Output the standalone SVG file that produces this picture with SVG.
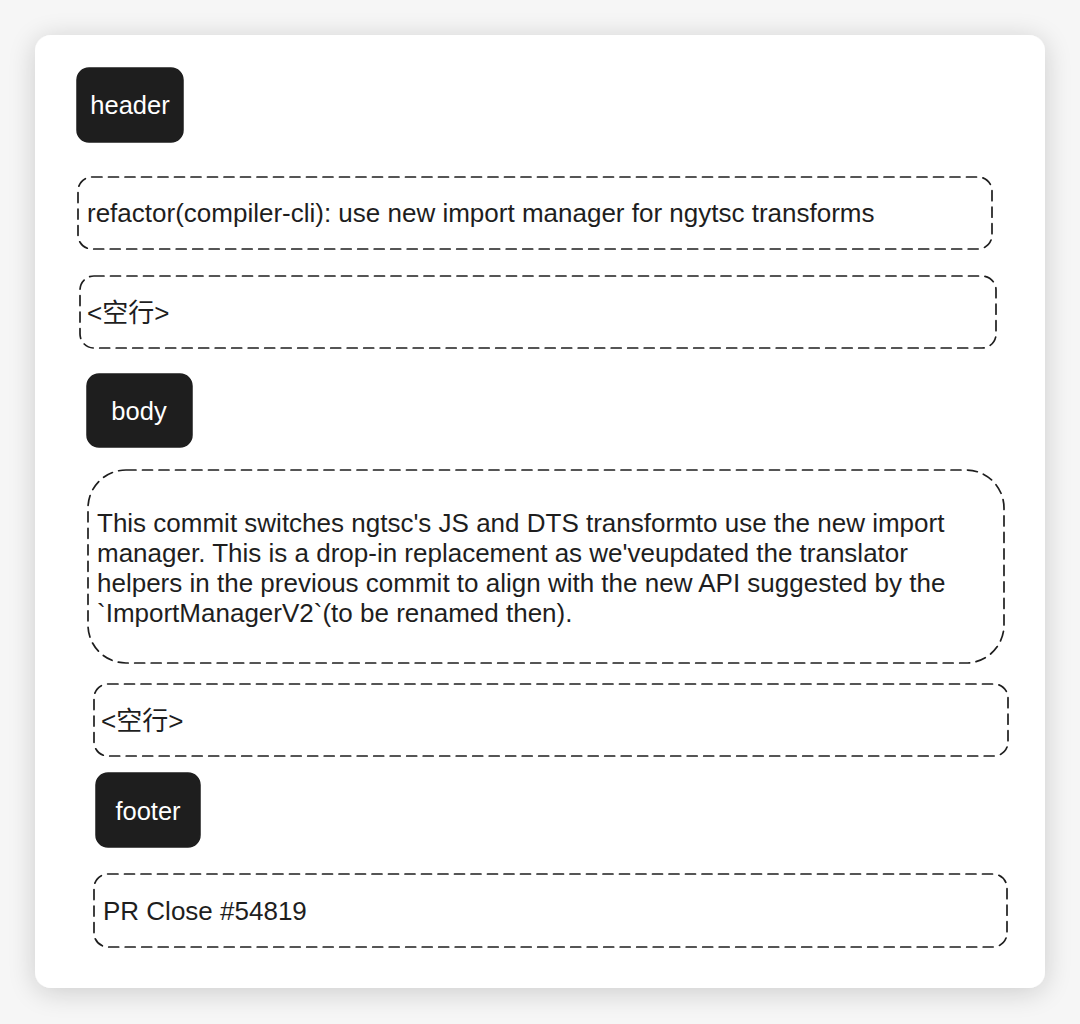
<svg xmlns="http://www.w3.org/2000/svg" width="1080" height="1024" viewBox="0 0 1080 1024">
<defs>
<filter id="sh" x="-10%" y="-10%" width="120%" height="120%">
<feGaussianBlur in="SourceAlpha" stdDeviation="14"/>
<feOffset dx="0" dy="4"/>
<feComponentTransfer><feFuncA type="linear" slope="0.18"/></feComponentTransfer>
<feMerge><feMergeNode/><feMergeNode in="SourceGraphic"/></feMerge>
</filter>
<style>
.tag{fill:#1e1e1e;stroke:#1e1e1e;stroke-width:1.5}
.tagt{fill:#ffffff;font-family:"Liberation Sans",Arial,sans-serif;font-size:25.5px;text-anchor:middle}
.box{fill:none;stroke:#1e1e1e;stroke-width:1.7;stroke-dasharray:10 6.5;stroke-linecap:round}
.t{fill:#1e1e1e;font-family:"Liberation Sans",Arial,"Noto Sans CJK SC",sans-serif;font-size:26px}
</style>
</defs>
<rect x="0" y="0" width="1080" height="1024" fill="#f6f6f6"/>
<rect x="35" y="35" width="1010" height="953" rx="16" fill="#ffffff" filter="url(#sh)"/>

<g id="header">
<rect class="tag" x="77" y="68" width="106" height="74" rx="12"/>
<text class="tagt" x="130" y="114">header</text>
</g>
<g id="subject">
<rect class="box" x="78" y="177" width="914" height="72" rx="14"/>
<text class="t" x="87" y="222">refactor(compiler-cli): use new import manager for ngytsc transforms</text>
</g>
<g id="blank1">
<rect class="box" x="80" y="276" width="916" height="72" rx="14"/>
<text class="t" x="87" y="322">&lt;空行&gt;</text>
</g>
<g id="body">
<rect class="tag" x="87" y="374" width="105" height="73" rx="12"/>
<text class="tagt" x="139" y="420">body</text>
</g>
<g id="bodytext">
<rect class="box" x="88" y="470" width="916" height="193" rx="38"/>
<text class="t" x="97" y="532">This commit switches ngtsc's JS and DTS transformto use the new import</text>
<text class="t" x="97" y="562">manager. This is a drop-in replacement as we'veupdated the translator</text>
<text class="t" x="97" y="592">helpers in the previous commit to align with the new API suggested by the</text>
<text class="t" x="97" y="622">`ImportManagerV2`(to be renamed then).</text>
</g>
<g id="blank2">
<rect class="box" x="94" y="684" width="914" height="72" rx="14"/>
<text class="t" x="101" y="730">&lt;空行&gt;</text>
</g>
<g id="footer">
<rect class="tag" x="96" y="773" width="104" height="74" rx="12"/>
<text class="tagt" x="148" y="820">footer</text>
</g>
<g id="footertext">
<rect class="box" x="94" y="874" width="913" height="73" rx="14"/>
<text class="t" x="103" y="920">PR Close #54819</text>
</g>
<g id="connectors"></g>
</svg>
